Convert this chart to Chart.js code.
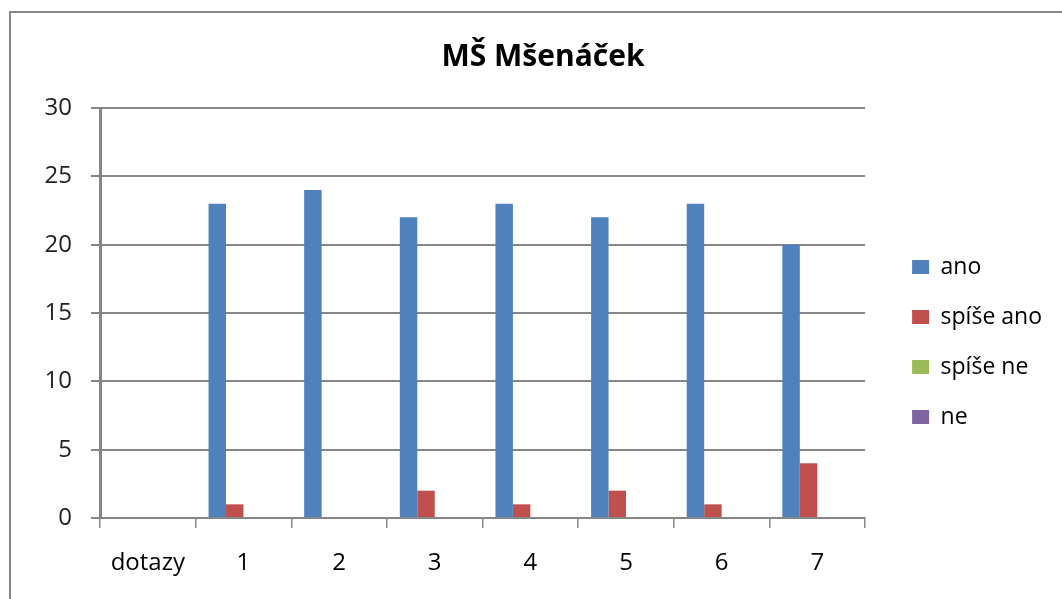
<!DOCTYPE html>
<html>
<head>
<meta charset="utf-8">
<script src="https://cdn.jsdelivr.net/npm/chart.js@4"></script>
<style>
  html, body { margin: 0; padding: 0; background: #fff; overflow: hidden; }
  #ramecek { position: absolute; left: 9px; top: 11px; width: 1200px; height: 700px;
             border-left: 2px solid #878787; border-top: 2px solid #878787; }
  #graf { position: absolute; left: 0; top: 0; }
</style>
</head>
<body>
<div id="ramecek"></div>
<canvas id="graf" width="1100" height="599"></canvas>
<script>
// data z grafu
const kategorie = ['dotazy', '1', '2', '3', '4', '5', '6', '7'];
const ano = [null, 23, 24, 22, 23, 22, 23, 20];
const spiseAno = [null, 1, 0, 2, 1, 2, 1, 4];
const spiseNe = [null, 0, 0, 0, 0, 0, 0, 0];
const ne = [null, 0, 0, 0, 0, 0, 0, 0];
const nazvySerii = ['ano', 'spíše ano', 'spíše ne', 'ne'];
const barvy = ['#4F81BD', '#C0504D', '#9BBB59', '#8064A2'];
const osaMin = 0;
const osaMax = 30;
const osaKrok = 5;

const pismo = 'Open Sans';
const seda = '#868686';
const velikostLegendy = 23;
const mezeraLegendy = 27;

const ctx = document.getElementById('graf').getContext('2d');

// legenda ma sedet vpravo od grafu, nadpis na stredu ramecku
ctx.font = velikostLegendy + 'px "' + pismo + '"';
const sirkaTextu = Math.max(...nazvySerii.map(t => ctx.measureText(t).width));
const legendaVlevo = 912 - mezeraLegendy;
const legendaVpravo = legendaVlevo + mezeraLegendy + 17 + velikostLegendy / 2 + sirkaTextu + 10;
const okrajVlevo = Math.round(1086 - legendaVpravo);
const okrajVpravo = Math.round(1100 - legendaVpravo);

new Chart(ctx, {
  type: 'bar',
  data: {
    labels: kategorie,
    datasets: [ano, spiseAno, spiseNe, ne].map((hodnoty, i) => ({
      label: nazvySerii[i],
      data: hodnoty,
      backgroundColor: barvy[i],
      borderWidth: 0,
      categoryPercentage: 0.73,
      barPercentage: 1
    }))
  },
  options: {
    responsive: false,
    animation: false,
    layout: { padding: { left: okrajVlevo, right: okrajVpravo, top: 30, bottom: 0 } },
    plugins: {
      tooltip: { enabled: false },
      title: {
        display: true,
        text: 'MŠ Mšenáček',
        color: '#000',
        font: { family: pismo, size: 30, weight: 'bold' },
        padding: { top: 9, bottom: 33 }
      },
      legend: {
        position: 'right',
        align: 'start',
        fullSize: false,
        title: { display: true, text: '', font: { size: 10 }, padding: { top: 108.5, bottom: 0 } },
        labels: {
          boxWidth: 17,
          boxHeight: 14,
          padding: mezeraLegendy,
          color: '#000',
          font: { family: pismo, size: velikostLegendy }
        }
      }
    },
    scales: {
      x: {
        grid: { offset: true, drawOnChartArea: false, tickLength: 10, color: seda, lineWidth: 1.5 },
        border: { color: seda, width: 2 },
        ticks: { padding: 21, color: '#000', font: { family: pismo, size: 24 } },
        afterFit: s => { s.height = 81; }
      },
      y: {
        min: osaMin,
        max: osaMax,
        ticks: { stepSize: osaKrok, padding: 19, color: '#222', font: { family: pismo, size: 24 } },
        grid: { color: seda, lineWidth: 2, tickLength: 9 },
        border: { color: seda, width: 3 },
        afterFit: s => { s.width = 100 - okrajVlevo; }
      },
      // prazdna osa jako mezera mezi grafem a legendou
      mezera: {
        type: 'linear',
        position: 'right',
        display: true,
        grid: { display: false, drawTicks: false },
        ticks: { display: false },
        border: { display: false },
        afterFit: s => { s.width = legendaVlevo - 865; }
      }
    }
  }
});
</script>
</body>
</html>
